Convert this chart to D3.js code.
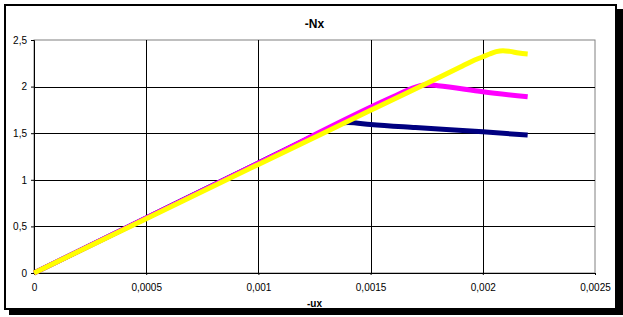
<!DOCTYPE html>
<html>
<head>
<meta charset="utf-8">
<script src="https://cdn.jsdelivr.net/npm/d3@7"></script>
<style>
  body { margin: 0; background: #fff; }
  svg text { font-family: "Liberation Sans", Arial, sans-serif; }
</style>
</head>
<body>
<div id="chart"></div>
<script>
var svgWidth = 623;
var svgHeight = 317;

var margin = { top: 40, right: 28, bottom: 44, left: 34 };
var width = 595 - margin.left;
var height = 273 - margin.top;

// series: [ -ux, -Nx ]
var navySeries = [[0, 0], [0.0005, 0.59], [0.001, 1.18], [0.0013, 1.535], [0.00135, 1.595],
                  [0.00138, 1.613], [0.0014, 1.615], [0.0015, 1.593], [0.0017, 1.56],
                  [0.002, 1.515], [0.0022, 1.48]];
var magentaSeries = [[0, 0], [0.0005, 0.59], [0.001, 1.18], [0.0016, 1.89], [0.0017, 1.995],
                     [0.00175, 2.02], [0.0018, 2.01], [0.002, 1.945], [0.0022, 1.89]];
var yellowSeries = [[0, 0], [0.0005, 0.583], [0.001, 1.165], [0.0015, 1.745], [0.0019, 2.21],
                    [0.00195, 2.27], [0.002, 2.32], [0.00203, 2.35], [0.00206, 2.375],
                    [0.00209, 2.385], [0.00212, 2.378], [0.00216, 2.36], [0.0022, 2.35]];

var xTicks = [0, 0.0005, 0.001, 0.0015, 0.002, 0.0025];
var yTicks = [0, 0.5, 1, 1.5, 2, 2.5];

var locale = d3.formatLocale({ decimal: ",", thousands: " ", grouping: [3], currency: ["", ""] });
var fmt = locale.format("~g");

var svg = d3.select("#chart")
            .append("svg")
            .attr("width", svgWidth)
            .attr("height", svgHeight);

// chart frame with shadow
svg.append("rect")
   .attr("x", 9).attr("y", 9)
   .attr("width", 614).attr("height", 306)
   .attr("fill", "#000");
svg.append("rect")
   .attr("x", 5).attr("y", 5)
   .attr("width", 611).attr("height", 304)
   .attr("fill", "#fff")
   .attr("stroke", "#000")
   .attr("stroke-width", 2);

// title
svg.append("text")
   .attr("x", margin.left + width / 2)
   .attr("y", 28)
   .attr("text-anchor", "middle")
   .style("font-size", "12px")
   .style("font-weight", "bold")
   .text("-Nx");

var g = svg.append("g")
           .attr("transform", `translate(${margin.left}, ${margin.top})`);

var xScale = d3.scaleLinear().domain([0, 0.0025]).range([0, width]);
var yScale = d3.scaleLinear().domain([0, 2.5]).range([height, 0]);

// plot border (top and right are grey)
g.append("rect")
 .attr("width", width).attr("height", height)
 .attr("fill", "none")
 .attr("stroke", "#808080")
 .attr("stroke-width", 1);

// gridlines
g.append("g")
 .selectAll("line.vg")
 .data(xTicks.slice(1, -1))
 .enter().append("line")
 .attr("x1", d => Math.round(xScale(d)) + 0.5)
 .attr("x2", d => Math.round(xScale(d)) + 0.5)
 .attr("y1", 0).attr("y2", height)
 .attr("stroke", "#000");

g.append("g")
 .selectAll("line.hg")
 .data(yTicks.slice(1, -1))
 .enter().append("line")
 .attr("y1", d => Math.round(yScale(d)) + 0.5)
 .attr("y2", d => Math.round(yScale(d)) + 0.5)
 .attr("x1", 0).attr("x2", width)
 .attr("stroke", "#000");

// axes
var xAxis = d3.axisBottom(xScale).tickValues(xTicks).tickFormat(fmt).tickSize(2).tickPadding(9);
var yAxis = d3.axisLeft(yScale).tickValues(yTicks).tickFormat(fmt).tickSize(3).tickPadding(4);

var xAxisGroup = g.append("g")
                  .attr("transform", `translate(0, ${height})`)
                  .call(xAxis);
var yAxisGroup = g.append("g").call(yAxis);

[xAxisGroup, yAxisGroup].forEach(function(ax) {
  ax.selectAll("path, line").attr("stroke", "#000");
  ax.selectAll("text")
    .style("font-size", "10px")
    .attr("fill", "#000");
});
xAxisGroup.select(".domain").attr("d", `M0,0.5H${width}`);

// x axis label
g.append("text")
 .attr("x", width / 2)
 .attr("y", height + 34)
 .attr("text-anchor", "middle")
 .style("font-size", "10px")
 .style("font-weight", "bold")
 .text("-ux");

// series
var line = d3.line()
             .curve(d3.curveMonotoneX)
             .x(d => xScale(d[0]))
             .y(d => yScale(d[1]));

var series = [
  { data: navySeries, color: "#000080" },
  { data: magentaSeries, color: "#ff00ff" },
  { data: yellowSeries, color: "#ffff00" }
];

series.forEach(function(s) {
  g.append("path")
   .datum(s.data)
   .attr("d", line)
   .attr("fill", "none")
   .attr("stroke", s.color)
   .attr("stroke-width", 5)
   .attr("stroke-linejoin", "round");
});
</script>
</body>
</html>
